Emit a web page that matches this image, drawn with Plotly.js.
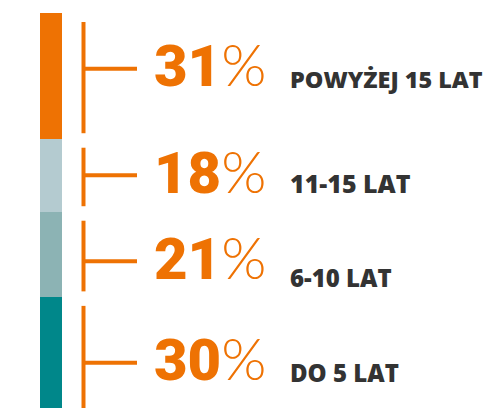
<!DOCTYPE html>
<html>
<head>
<meta charset="utf-8">
<script src="https://cdn.plot.ly/plotly-3.0.1.min.js"></script>
<style>html,body{margin:0;padding:0;background:#fff;}#chart{width:490px;height:408px;}</style>
</head>
<body>
<div id="chart"></div>
<script>
// ---- data (bottom to top of the stacked bar) ----
const categories = ["DO 5 LAT", "6-10 LAT", "11-15 LAT", "POWYŻEJ 15 LAT"];
const values = [30, 21, 18, 31];
const percentLabels = ["30", "21", "18", "31"];

// ---- styles / layout constants ----
const segColors = ["#00878A", "#8CB3B4", "#B4CBD0", "#EE7203"];
const orange = "#EE7203";
const labelSizes = [24, 24, 25, 23.4];
const labelShift = [-10, -16, -8, -10];
const textShiftPx = [5, 7, 0, -7];   // vertical offset of bracket/text from segment centre (px, down +)
const W = 490, H = 408, TOP = 13;
const yRange = [2.6, 100];
const ppu = (H - TOP) / (yRange[1] - yRange[0]);
const barX = 51, barW = 22, brX = 83.5, brEnd = 137, pctX = 152, labX = 288;

const traces = categories.map((c, i) => ({
  type: "bar", x: [barX], y: [values[i]], width: [barW], name: c,
  marker: {color: segColors[i], line: {width: 0}},
  hoverinfo: "skip", showlegend: false
}));

const shapes = [], annotations = [];
let cum = 0;
values.forEach((v, i) => {
  const base = cum, top = cum + v;
  cum = top;
  const mid = (base + top) / 2 - textShiftPx[i] / ppu;
  shapes.push({type: "line", xref: "x", yref: "y", x0: brX, x1: brX,
    y0: base + 5.5 / ppu, y1: top - 9 / ppu, line: {color: orange, width: 4}});
  shapes.push({type: "line", xref: "x", yref: "y", x0: brX, x1: brEnd,
    y0: mid, y1: mid, line: {color: orange, width: 4}});
  annotations.push({xref: "x", yref: "y", x: pctX, y: mid, xanchor: "left", yanchor: "middle",
    yshift: 4, showarrow: false,
    text: percentLabels[i] + '<span style="font-family:Lato;font-weight:300">%</span>',
    font: {family: "Roboto", size: 58, color: orange, weight: 900}});
  annotations.push({xref: "x", yref: "y", x: labX, y: mid, xanchor: "left", yanchor: "middle",
    yshift: labelShift[i], showarrow: false, text: categories[i],
    font: {family: "Open Sans", size: labelSizes[i], color: "#333333", weight: 800}});
});

const layout = {
  width: W, height: H, margin: {l: 0, r: 0, t: TOP, b: 0},
  paper_bgcolor: "#fff", plot_bgcolor: "#fff",
  barmode: "stack", bargap: 0,
  xaxis: {range: [0, W], visible: false, fixedrange: true},
  yaxis: {range: yRange, visible: false, fixedrange: true},
  shapes: shapes, annotations: annotations
};
Plotly.newPlot("chart", traces, layout, {displayModeBar: false, staticPlot: true});
</script>
</body>
</html>
